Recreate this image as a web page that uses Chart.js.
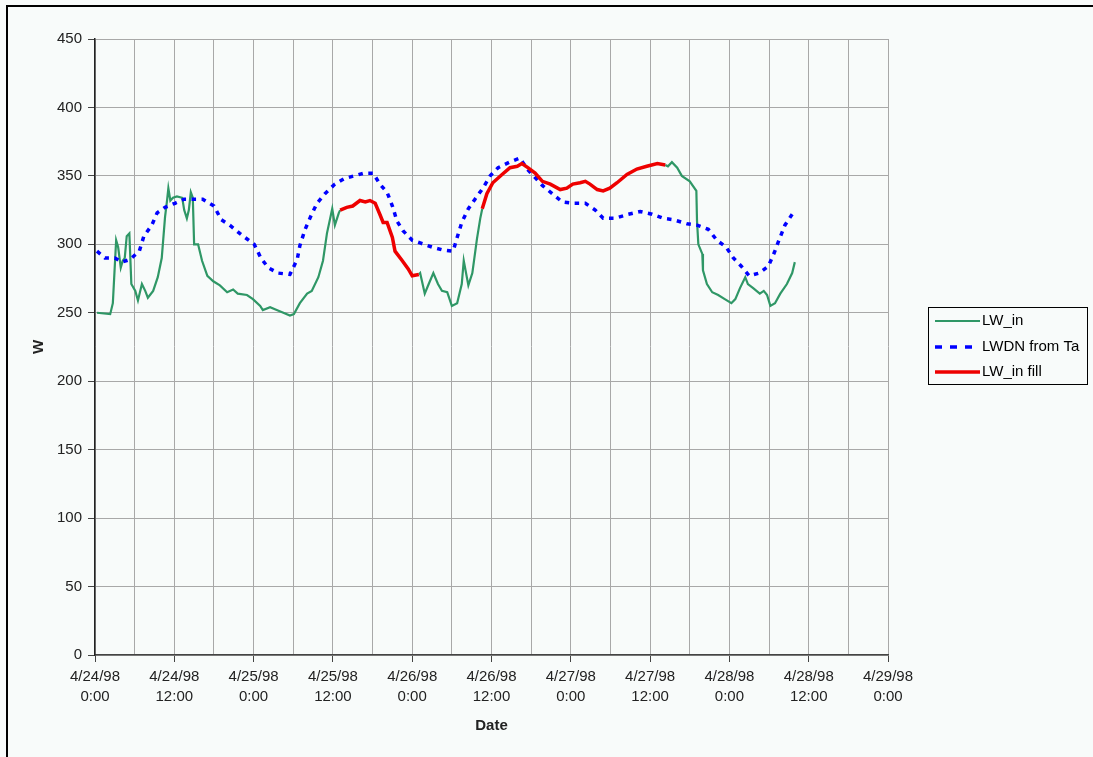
<!DOCTYPE html>
<html>
<head>
<meta charset="utf-8">
<title>LW_in</title>
<script src="https://cdn.jsdelivr.net/npm/chart.js@4"></script>
<style>
  html, body { margin: 0; padding: 0; background: #f8fbfa; }
  canvas { display: block; }
</style>
</head>
<body>
<canvas id="chart" width="1093" height="757"></canvas>
<script>
// Hours since 4/24/98 0:00 and incoming longwave (W) for each series.
// A null value breaks the line where the fill series takes over.
const lwInHours = [0.3, 2.3, 2.7, 3.2, 3.5, 3.9, 4.2, 4.5, 4.8, 5.2, 5.5, 6.1, 6.5, 7.1, 7.6, 8.0, 8.8, 9.5, 10.1, 10.6,
  10.9, 11.1, 11.4, 11.8, 12.4, 13.2, 13.5, 13.9, 14.2, 14.5, 14.8, 15.0, 15.6, 16.2, 17.0, 17.9, 18.9, 20.0, 20.9, 21.6,
  23.0, 23.9, 25.0, 25.4, 26.5, 27.5, 28.5, 29.5, 30.1, 31.0, 32.1, 32.8, 33.8, 34.5, 35.1, 35.9, 36.3, 36.9, 37.1,
  43.0,
  49.0, 49.2, 49.9, 50.5, 51.2, 51.9, 52.5, 53.3, 54.0, 54.8, 55.5, 55.8, 56.5, 57.1, 57.8, 58.3, 58.6,
  72.0,
  86.3, 86.7, 87.3, 88.1, 88.8, 90.0, 91.0, 91.1, 91.3, 91.9, 92.0, 92.6, 93.4, 94.3, 95.3, 96.3, 96.9, 97.6, 98.4,
  98.8, 99.6, 100.6, 101.2, 101.7, 102.2, 102.9, 103.7, 104.7, 105.5, 105.9];
const lwInValues = [250, 249, 257, 303, 298, 283, 288, 290, 306, 308, 271, 266, 259, 271, 266, 261, 266, 276, 290, 320,
  332, 341, 332, 334, 335, 334, 325, 319, 325, 338, 334, 300, 300, 288, 277, 273, 270, 265, 267, 264,
  263, 260, 255, 252, 254, 252, 250, 248, 249, 257, 264, 266, 276, 288, 308, 326, 314, 323, 325,
  null,
  278, 279, 264, 271, 279, 271, 266, 265, 255, 257, 271, 288, 270, 279, 304, 319, 326,
  null,
  358, 357, 360, 356, 350, 346, 339, 317, 300, 293, 281, 271, 265, 263, 260, 257, 260, 268, 276,
  271, 268, 264, 266, 263, 255, 257, 264, 271, 279, 287];

const lwdnHours = [0.3, 1.5, 3.0, 4.1, 5.3, 6.7, 7.4, 8.6, 9.4, 10.6, 12.1, 13.5, 15.0, 16.3, 18.0, 19.1, 20.4, 21.9,
  22.7, 24.1, 25.1, 26.2, 27.7, 29.5, 30.6, 31.0, 31.8, 32.7, 33.6, 34.8, 36.3, 37.7, 39.2, 40.7, 42.1, 43.1, 44.2,
  45.0, 45.7, 46.6, 48.0, 49.2, 51.0, 52.5, 54.2, 54.8, 55.5, 56.5, 57.5, 58.7, 59.8, 61.0, 62.7, 64.3, 65.4, 67.7,
  69.2, 70.7, 72.3, 74.2, 75.7, 76.9, 78.7, 80.7, 82.5, 84.3, 86.0, 87.5, 89.6, 91.1, 92.8, 94.1, 95.5, 96.6, 97.8,
  99.0, 100.5, 101.9, 102.8, 103.5, 104.4, 105.5];
const lwdnValues = [295, 290, 290, 287, 289, 295, 306, 314, 323, 327, 330, 333, 333, 333, 328, 318, 314, 308,
  305, 300, 290, 283, 279, 278, 289, 299, 311, 321, 330, 337, 344, 348, 350, 352, 352, 344, 338,
  328, 317, 310, 303, 301, 298, 296, 295, 305, 316, 326, 333, 341, 350, 356, 360, 363, 355, 343,
  337, 331, 330, 330, 325, 319, 319, 322, 324, 322, 319, 318, 315, 314, 311, 303, 298, 290, 284,
  277, 279, 284, 294, 303, 314, 322];

const fillHours = [37.1, 38.1, 39.0, 40.1, 40.9, 41.6, 42.4, 43.1, 43.6, 44.2, 45.0, 45.4, 46.5, 47.4, 48.0, 49.0,
  54.0,
  58.6, 59.3, 60.2, 61.6, 62.8, 63.9, 64.6, 65.5, 66.6, 67.7, 68.9, 70.4, 71.4, 72.3, 73.4, 74.2, 74.9, 76.0, 76.9,
  77.9, 79.0, 80.5, 82.0, 83.5, 85.1, 86.3];
const fillValues = [325, 327, 328, 332, 331, 332, 330, 322, 316, 316, 305, 295, 288, 282, 277, 278,
  null,
  326, 337, 345, 351, 356, 357, 359, 356, 352, 346, 344, 340, 341, 344, 345, 346, 344, 340, 339,
  341, 345, 351, 355, 357, 359, 358];

// Axis labels
const dateLabels = ['4/24/98', '4/25/98', '4/26/98', '4/27/98', '4/28/98', '4/29/98'];
const timeLabels = ['0:00', '12:00'];
const seriesNames = ['LW_in', 'LWDN from Ta', 'LW_in fill'];

const toPoints = (xs, ys) => xs.map((x, i) => ({ x: x, y: ys[i] }));

const FONT = "'Liberation Sans', Arial, sans-serif";
Chart.defaults.font.family = FONT;

// Page background and the frame line on the top and left edges
const framePlugin = {
  id: 'frame',
  beforeDraw(chart) {
    const c = chart.ctx;
    c.save();
    c.fillStyle = '#f8fbfa';
    c.fillRect(0, 0, chart.width, chart.height);
    c.strokeStyle = '#000';
    c.lineWidth = 2;
    c.beginPath();
    c.moveTo(7, chart.height);
    c.lineTo(7, 6);
    c.lineTo(chart.width, 6);
    c.stroke();
    c.restore();
  }
};

// Boxed legend to the right of the plot, with line samples
const boxLegend = {
  id: 'boxLegend',
  afterDraw(chart) {
    const c = chart.ctx;
    const bx = 928, by = 307, bw = 159, bh = 77;
    const rows = [321, 347, 372];
    c.save();
    c.fillStyle = '#f8fbfa';
    c.fillRect(bx, by, bw, bh);
    c.strokeStyle = '#000';
    c.lineWidth = 1;
    c.setLineDash([]);
    c.strokeRect(bx + 0.5, by + 0.5, bw, bh);
    chart.data.datasets.forEach((ds, i) => {
      const y = rows[i];
      c.beginPath();
      c.strokeStyle = ds.borderColor;
      c.lineWidth = ds.borderWidth;
      c.setLineDash(ds.borderDash ? [7, 8] : []);
      c.moveTo(935, y);
      c.lineTo(980, y);
      c.stroke();
      c.setLineDash([]);
      c.fillStyle = '#000';
      c.font = '15px ' + FONT;
      c.textBaseline = 'middle';
      c.textAlign = 'left';
      c.fillText(ds.label, 982, y);
    });
    c.restore();
  }
};

new Chart(document.getElementById('chart'), {
  type: 'line',
  data: {
    datasets: [
      {
        label: seriesNames[0],
        data: toPoints(lwInHours, lwInValues),
        borderColor: '#2f9766',
        borderWidth: 2.2,
        pointRadius: 0,
        tension: 0,
        spanGaps: false,
        order: 3
      },
      {
        label: seriesNames[1],
        data: toPoints(lwdnHours, lwdnValues),
        borderColor: '#0000ff',
        borderWidth: 3.5,
        borderDash: [4.5, 5.5],
        borderCapStyle: 'butt',
        pointRadius: 0,
        tension: 0,
        order: 2
      },
      {
        label: seriesNames[2],
        data: toPoints(fillHours, fillValues),
        borderColor: '#ee0000',
        borderWidth: 3.5,
        pointRadius: 0,
        tension: 0,
        spanGaps: false,
        order: 1
      }
    ]
  },
  options: {
    responsive: false,
    animation: false,
    devicePixelRatio: 1,
    layout: { padding: { top: 39, right: 205, left: 0, bottom: 0 } },
    plugins: { legend: { display: false }, tooltip: { enabled: false } },
    scales: {
      x: {
        type: 'linear',
        min: 0,
        max: 120,
        afterFit(scale) { scale.height = 102; },
        ticks: {
          stepSize: 6,
          autoSkip: false,
          maxRotation: 0,
          minRotation: 0,
          padding: 5,
          color: '#222',
          font: { size: 15, lineHeight: 1.33 },
          callback(value) {
            if (value % 12 !== 0) return '';
            return [dateLabels[Math.floor(value / 24)], timeLabels[(value % 24) / 12]];
          }
        },
        grid: {
          color: '#a8a8a8',
          lineWidth: 1,
          tickLength: 7,
          tickColor: (ctx) => (ctx.tick && ctx.tick.value % 12 === 0) ? '#444' : 'rgba(0,0,0,0)'
        },
        border: { color: '#444', width: 1.5 },
        title: {
          display: true,
          text: 'Date',
          color: '#222',
          font: { size: 15, weight: 'bold', lineHeight: 1.2 },
          padding: { top: 0, bottom: 22 }
        }
      },
      y: {
        min: 0,
        max: 450,
        afterFit(scale) { scale.width = 95; },
        ticks: {
          stepSize: 50,
          padding: 6,
          color: '#222',
          font: { size: 15 }
        },
        grid: {
          color: '#a8a8a8',
          lineWidth: 1,
          tickLength: 7,
          tickColor: '#444'
        },
        border: { color: '#222', width: 1.5 },
        title: {
          display: true,
          text: 'W',
          color: '#222',
          font: { size: 15, weight: 'bold', lineHeight: 1.2 },
          padding: { top: 30, bottom: 0 }
        }
      }
    }
  },
  plugins: [framePlugin, boxLegend]
});
</script>
</body>
</html>
